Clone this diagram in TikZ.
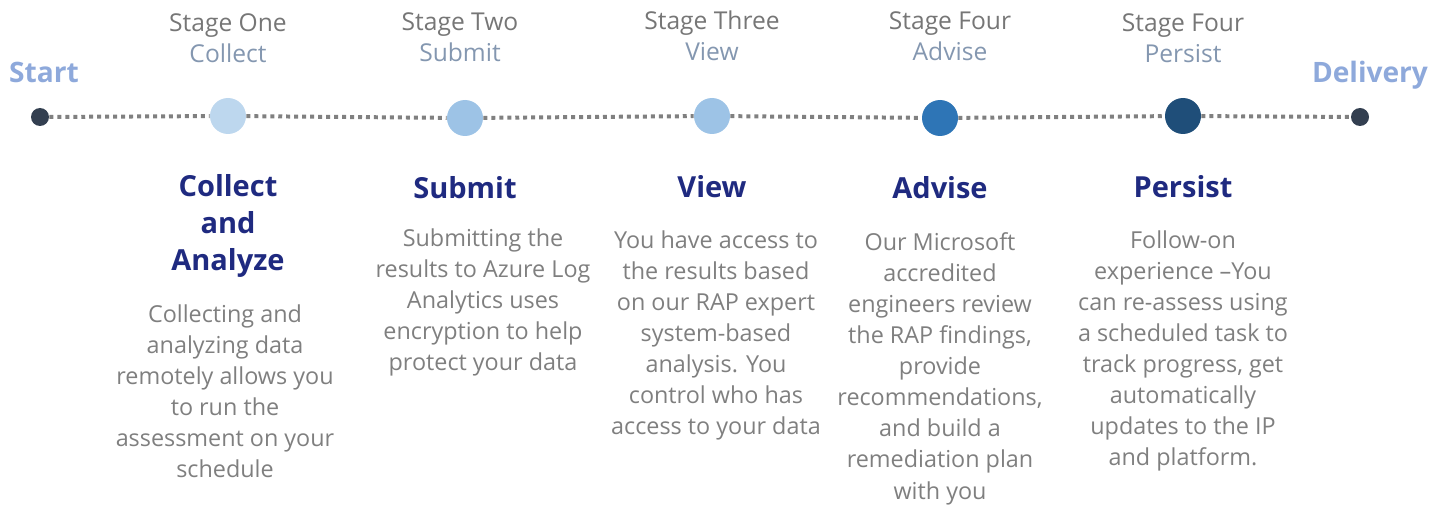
\documentclass[tikz,border=0pt]{standalone}
\usepackage{fontspec}
\setmainfont{Open Sans}
\usepackage{tikz}
\usetikzlibrary{positioning}

\definecolor{dotdark}{HTML}{333F50}
\definecolor{stageA}{HTML}{BDD7EE}
\definecolor{stageB}{HTML}{9DC3E6}
\definecolor{stageC}{HTML}{2E75B6}
\definecolor{stageD}{HTML}{1F4E79}
\definecolor{linegray}{HTML}{808080}
\definecolor{endblue}{HTML}{8EA9DB}
\definecolor{namegray}{HTML}{8497B0}
\definecolor{stagegray}{HTML}{767676}
\definecolor{titlenavy}{HTML}{1F2A80}
\definecolor{bodygray}{HTML}{7F7F7F}

\tikzset{
  enddot/.style={circle, fill=dotdark, inner sep=0pt, minimum size=0.36cm},
  stagedot/.style={circle, fill=#1, inner sep=0pt, minimum size=0.72cm},
  endlabel/.style={font=\fontsize{16}{18}\selectfont\bfseries, text=endblue, inner sep=0pt},
  stagelabel/.style={font=\fontsize{14}{17.6}\selectfont, text=stagegray, align=center, inner sep=0pt},
  titlelabel/.style={font=\fontsize{16.5}{21.2}\selectfont\bfseries, text=titlenavy, align=center, inner sep=0pt, anchor=north},
  bodytext/.style={font=\fontsize{13.3}{17.7}\selectfont, text=bodygray, align=center, inner sep=0pt, anchor=north},
  timeline/.style={linegray, line width=2.27pt, dash pattern=on 2.27pt off 2.27pt}
}

\begin{document}
\begin{tikzpicture}[x=0.02cm, y=-0.02cm]
  \useasboundingbox (0,0) rectangle (1447,506);

  % timeline
  \node[enddot] (start) at (40,117) {};
  \node[stagedot=stageA] (D1) at (228,116) {};
  \node[stagedot=stageB] (D2) at (465,118) {};
  \node[stagedot=stageB] (D3) at (712,116) {};
  \node[stagedot=stageC] (D4) at (940,118) {};
  \node[stagedot=stageD] (D5) at (1183,116) {};
  \node[enddot] (delivery) at (1360,117) {};

  \draw[timeline] (start) -- (D1) (D1) -- (D2) (D2) -- (D3)
    (D3) -- (D4) (D4) -- (D5) (D5) -- (delivery);

  \node[endlabel] (startlbl) at (44,72) {Start};
  \node[endlabel] (deliverylbl) at (1370,75) {Delivery};

  % stage names
  \node[stagelabel] (L1) at (228,38) {Stage One\\\textcolor{namegray}{Collect}};
  \node[stagelabel] (L2) at (460,37) {Stage Two\\\textcolor{namegray}{Submit}};
  \node[stagelabel] (L3) at (712,36) {Stage Three\\\textcolor{namegray}{View}};
  \node[stagelabel] (L4) at (950,36) {Stage Four\\\textcolor{namegray}{Advise}};
  \node[stagelabel] (L5) at (1183,38) {Stage Four\\\textcolor{namegray}{Persist}};

  % titles
  \node[titlelabel] (T1) at (228,174) {Collect\\and\\Analyze};
  \node[titlelabel] (T2) at (465,176) {Submit};
  \node[titlelabel] (T3) at (712,175) {View};
  \node[titlelabel] (T4) at (940,176) {Advise};
  \node[titlelabel] (T5) at (1183,175) {Persist};

  % descriptions
  \node[bodytext] (B1) at (225,304) {Collecting and\\analyzing data\\remotely allows you\\to run the\\assessment on your\\schedule};
  \node[bodytext] (B2) at (483,228) {Submitting the\\results to Azure Log\\Analytics uses\\encryption to help\\protect your data};
  \node[bodytext] (B3) at (716,230) {You have access to\\the results based\\on our RAP expert\\system-based\\analysis. You\\control who has\\access to your data};
  \node[bodytext] (B4) at (940,232) {Our Microsoft\\accredited\\engineers review\\the RAP findings,\\provide\\recommendations,\\and build a\\remediation plan\\with you};
  \node[bodytext] (B5) at (1183,230) {Follow-on\\experience --You\\can re-assess using\\a scheduled task to\\track progress, get\\automatically\\updates to the IP\\and platform.};
\end{tikzpicture}
\end{document}
